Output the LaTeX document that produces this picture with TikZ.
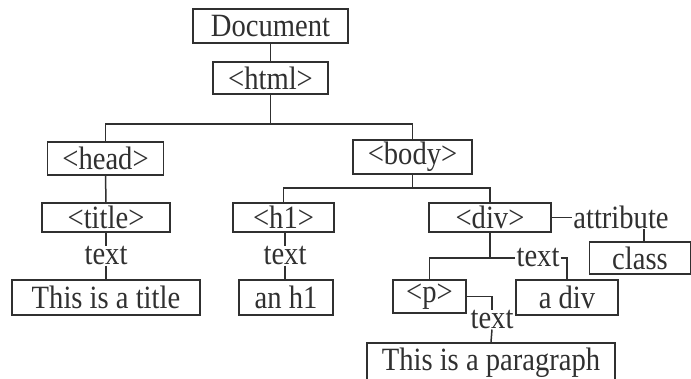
\documentclass[tikz,border=0pt]{standalone}
\usepackage{fontspec}
\setmainfont{Liberation Serif}[FakeStretch=0.88]
\definecolor{ink}{HTML}{303030}
\tikzset{
  box/.style={draw=ink, line width=1.6pt, rectangle, inner sep=0pt, text=ink, font=\fontsize{32.5}{33}\selectfont},
  lbl/.style={inner sep=0pt, inner xsep=1pt, text=ink, font=\fontsize{32.5}{33}\selectfont},
  conn/.style={draw=ink, line width=1.5pt}
}
\begin{document}
\begin{tikzpicture}[x=1pt,y=-1pt]
\useasboundingbox (0,0) rectangle (691,378);
\clip (0,0) rectangle (691,378);
\node[box, minimum width=155pt, minimum height=34pt] (doc) at (270.5,26) {Document};
\node[box, minimum width=115pt, minimum height=32pt] (html) at (270.5,78) {<html>};
\node[box, minimum width=116pt, minimum height=33pt] (head) at (105.5,158.5) {<head>};
\node[box, minimum width=119pt, minimum height=34pt] (body) at (412.5,157) {<body>};
\node[box, minimum width=128pt, minimum height=29pt] (title) at (106,217.5) {<title>};
\node[lbl] (t1) at (106,256) {text};
\node[box, minimum width=188pt, minimum height=35pt] (ttl) at (106,297.5) {This is a title};
\node[box, minimum width=101pt, minimum height=29pt] (h1) at (283.5,217.5) {<h1>};
\node[lbl] (t2) at (285,256) {text};
\node[box, minimum width=94pt, minimum height=35pt] (anh1) at (286,297.5) {an h1};
\node[box, minimum width=122pt, minimum height=29pt] (div) at (490,217.5) {<div>};
\node[lbl] (attr) at (621,217) {attribute};
\node[box, minimum width=101pt, minimum height=32pt] (class) at (640,258) {class};
\node[lbl] (t3) at (538,258) {text};
\node[box, minimum width=73pt, minimum height=33pt] (p) at (429.5,296.5) {<p>};
\node[box, minimum width=102pt, minimum height=35pt] (adiv) at (567,297.5) {a div};
\node[lbl] (t4) at (492,320) {text};
\node[box, minimum width=248pt, minimum height=40pt, anchor=north] (para) at (491,342) {This is a paragraph};
\coordinate (j1) at (270.5,124);
\coordinate (j2) at (412.5,188);
\coordinate (j3) at (490,258);
\draw[conn] (doc.south) -- (html.south |- html.north);
\draw[conn] (html.south) -- (j1);
\draw[conn] (head.north) |- (j1) -| (body.north);
\draw[conn] (body.south) -- (j2);
\draw[conn] (h1.north) |- (j2) -| (div.north);
\draw[conn] (head.south) -- (title.north);
\draw[conn] (title.south) -- (t1.north);
\draw[conn] (t1.south) -- (ttl.north);
\draw[conn] (h1.south -| t2.north) -- (t2.north);
\draw[conn] (t2.south) -- (t2.south |- anh1.north);
\draw[conn] (div.east) -- (div.east -| attr.west);
\draw[conn] (class.north -| 644,0) -- (644,0 |- attr.south);
\draw[conn] (div.south) -- (j3);
\draw[conn] (p.north) |- (j3) -- (j3 -| t3.west);
\draw[conn] (t3.east) -| (adiv.north);
\draw[conn] (p.east) -| (t4.north);
\draw[conn] (t4.south) -- (para.north);
\end{tikzpicture}
\end{document}
